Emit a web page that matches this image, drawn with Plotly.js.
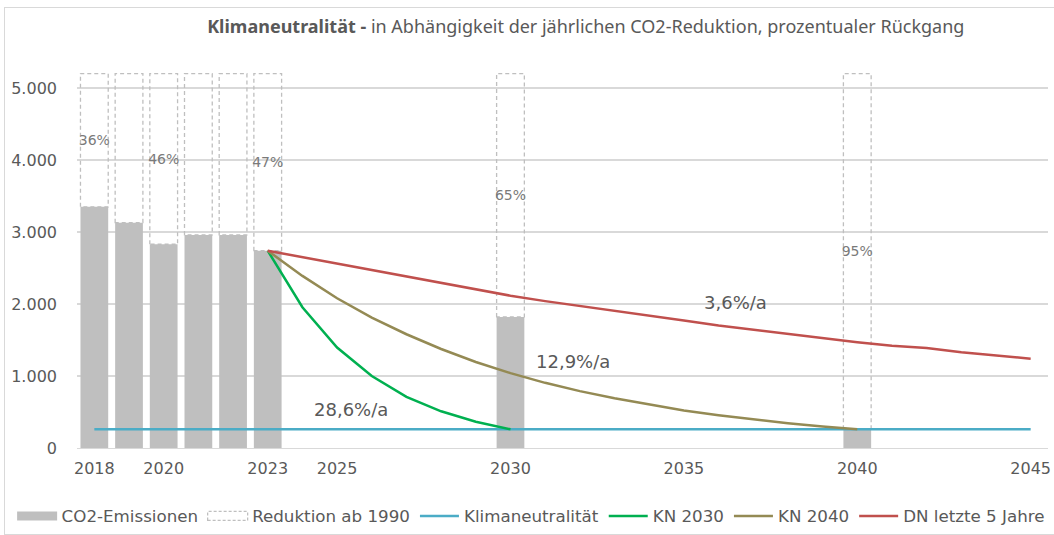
<!DOCTYPE html>
<html>
<head>
<meta charset="utf-8">
<script src="https://cdn.plot.ly/plotly-3.0.1.min.js"></script>
<style>
  html, body { margin: 0; padding: 0; width: 1054px; height: 535px; overflow: hidden; background: #fff; }
  #chart { position: absolute; left: 0; top: 0; width: 1100px; height: 535px; }
  #frame { position: absolute; left: 4px; top: 7px; width: 1200px; height: 526px; border: 1px solid #d9d9d9; pointer-events: none; }
  .barlayer g.trace:nth-of-type(2) path { stroke-dasharray: 4 3; }
</style>
</head>
<body>
<div id="chart"></div>
<div id="frame"></div>
<script>
// ---- data ----
const barYears      = [2018, 2019, 2020, 2021, 2022, 2023, 2030, 2040];
const emissions     = [3350, 3130, 2830, 2960, 2960, 2740, 1820, 260];
const level1990     = 5200;
const reductionText = ["36%", "", "46%", "", "", "47%", "65%", "95%"];

const klimaYears  = [2018, 2045];
const klimaValues = [260, 260];

const kn2030Years  = [2023, 2024, 2025, 2026, 2027, 2028, 2029, 2030];
const kn2030Values = [2740, 1955, 1395, 1000, 710, 510, 365, 260];

const kn2040Years  = [2023, 2024, 2025, 2026, 2027, 2028, 2029, 2030, 2031, 2032, 2033, 2034, 2035, 2036, 2037, 2038, 2039, 2040];
const kn2040Values = [2740, 2390, 2080, 1810, 1580, 1375, 1195, 1040, 905, 790, 690, 600, 520, 455, 395, 345, 300, 260];

const dnYears  = [2023, 2024, 2025, 2026, 2027, 2028, 2029, 2030, 2031, 2032, 2033, 2034, 2035, 2036, 2037, 2038, 2039, 2040, 2041, 2042, 2043, 2044, 2045];
const dnValues = [2740, 2650, 2560, 2470, 2380, 2290, 2200, 2115, 2040, 1975, 1900, 1840, 1770, 1700, 1640, 1580, 1525, 1470, 1420, 1390, 1330, 1280, 1240];

const tickYears = [2018, 2020, 2023, 2025, 2030, 2035, 2040, 2045];

const rateLabels = ["3,6%/a", "12,9%/a", "28,6%/a"];
const rateX      = [2036.5, 2031.8, 2025.4];
const rateY      = [2015, 1195, 528];

// ---- traces ----
const FONT = "DejaVu Sans";
const TXT = "#595959";

const traces = [
  {
    type: "bar", name: "CO2-Emissionen",
    x: barYears, y: emissions, width: 0.8,
    marker: { color: "#bfbfbf", line: { width: 0 } },
    hoverinfo: "skip"
  },
  {
    type: "bar", name: "Reduktion ab 1990",
    x: barYears, y: emissions.map(e => level1990 - e), base: emissions, width: 0.8,
    marker: { color: "rgba(255,255,255,0)", line: { color: "#bfbfbf", width: 1.3 } },
    text: reductionText, textposition: "inside", insidetextanchor: "middle",
    textangle: 0, constraintext: "none",
    textfont: { family: FONT, size: 14, color: "#7a7a7a" },
    hoverinfo: "skip"
  },
  {
    type: "scatter", mode: "lines", name: "Klimaneutralität",
    x: klimaYears, y: klimaValues,
    line: { color: "#4bacc6", width: 2.5 }
  },
  {
    type: "scatter", mode: "lines", name: "KN 2030",
    x: kn2030Years, y: kn2030Values,
    line: { color: "#00b050", width: 2.5 }
  },
  {
    type: "scatter", mode: "lines", name: "KN 2040",
    x: kn2040Years, y: kn2040Values,
    line: { color: "#948a54", width: 2.5 }
  },
  {
    type: "scatter", mode: "lines", name: "DN letzte 5 Jahre",
    x: dnYears, y: dnValues,
    line: { color: "#c0504d", width: 2.5 }
  }
];

const annotations = rateLabels.map((t, i) => ({
  text: t, x: rateX[i], y: rateY[i], xref: "x", yref: "y",
  showarrow: false, font: { family: FONT, size: 18, color: TXT }
}));

const layout = {
  width: 1100, height: 535,
  margin: { l: 77, r: 51.5, t: 70, b: 87, autoexpand: false },
  paper_bgcolor: "rgba(0,0,0,0)", plot_bgcolor: "rgba(0,0,0,0)",
  separators: ",.",
  barmode: "overlay",
  showlegend: true,
  title: {
    text: "<b>Klimaneutralität -</b> in Abhängigkeit der jährlichen CO2-Reduktion, prozentualer Rückgang",
    font: { family: "Noto Sans", size: 18, color: TXT },
    x: 0.524, xanchor: "center", xref: "paper", y: 0.95, yref: "container", yanchor: "middle"
  },
  xaxis: {
    type: "linear", range: [2017.5, 2045.5],
    tickmode: "array", tickvals: tickYears, ticktext: tickYears.map(String),
    showgrid: false, zeroline: false,
    showline: true, linecolor: "#d9d9d9", linewidth: 1.3,
    ticks: "", ticklabelstandoff: 5,
    tickfont: { family: FONT, size: 16, color: TXT }
  },
  yaxis: {
    range: [0, 5250], dtick: 1000, tick0: 0, tickformat: ",d",
    showgrid: true, gridcolor: "#d9d9d9", gridwidth: 1.3,
    zeroline: false, showline: false, ticks: "", ticklabelstandoff: 19,
    tickfont: { family: FONT, size: 16, color: TXT }
  },
  legend: {
    orientation: "h", x: -0.0663, xanchor: "left", y: -0.18, yanchor: "middle",
    itemwidth: 39,
    font: { family: FONT, size: 16.7, color: TXT },
    bgcolor: "rgba(0,0,0,0)", traceorder: "normal"
  },
  annotations: annotations
};

Plotly.newPlot("chart", traces, layout, { displayModeBar: false, staticPlot: true }).then(function () {
  // widen the legend swatches of the bar series to match the reference style
  const items = document.querySelectorAll(".legend g.traces");
  items.forEach(function (item, i) {
    item.querySelectorAll(".legendpoints path").forEach(function (p) {
      if (i < 2) {
        p.setAttribute("d", "M-20,4.5H20V-4.5H-20Z");
        if (i === 1) p.style.strokeDasharray = "3 2";
      }
    });
  });
});
</script>
</body>
</html>
